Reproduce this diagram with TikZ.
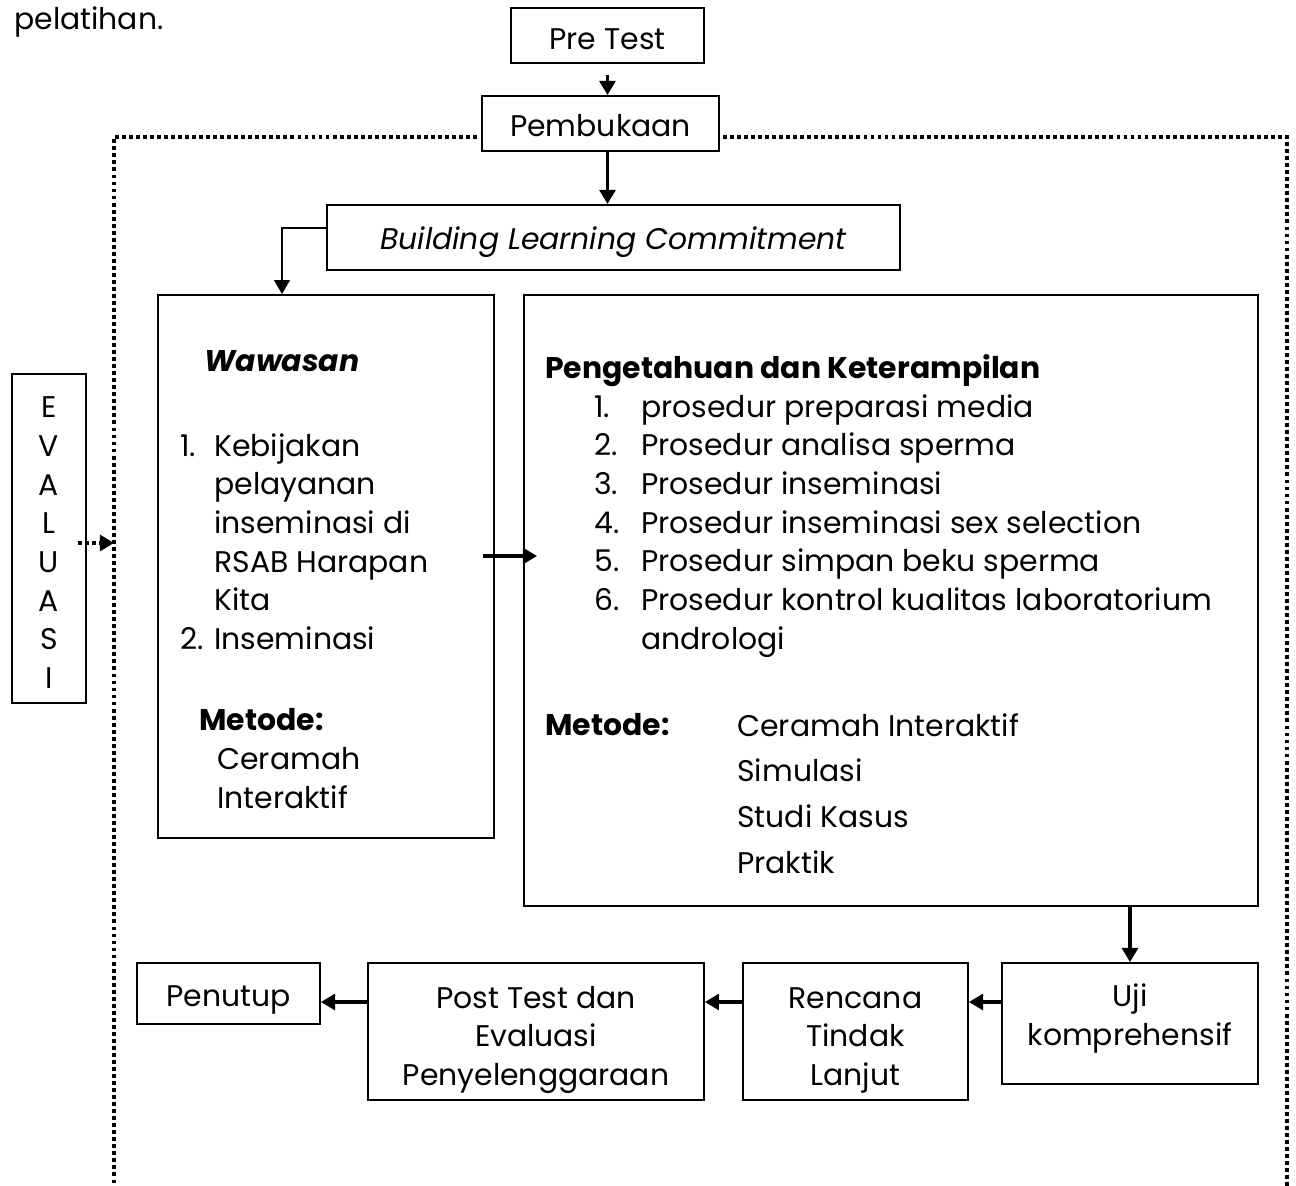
\documentclass[tikz,border=0pt]{standalone}
\usepackage{fontspec}
\setmainfont{Poppins}
\usetikzlibrary{arrows.meta,positioning}

% text of a box, moved up or down inside the box without changing its size
\newcommand{\boxlines}[2]{\raisebox{#1}[\height][\depth]{\begin{tabular}{@{}c@{}}#2\end{tabular}}}

\begin{document}
\begin{tikzpicture}[x=0.02cm, y=-0.02cm,
  font=\fontsize{17}{22}\selectfont,
  box/.style={draw, line width=1.1pt, inner sep=0pt, align=center},
  txt/.style={inner sep=0pt, align=left, anchor=north west},
  flow/.style={-{Triangle[width=9pt,length=8pt]}, line width=1.8pt},
  dotframe/.style={line width=2.2pt, dash pattern=on 2.2pt off 1.8pt}]
  \useasboundingbox (0,0) rectangle (1296,1186);
  \node[txt, anchor=west] (lead) at (14,22) {pelatihan.};
  % top of the flow
  \node[box, minimum width=3.86cm, minimum height=1.1cm] (pre) at (607.5,35.5)
    {\boxlines{-0.12cm}{Pre Test}};
  \node[box, minimum width=4.74cm, minimum height=1.1cm] (open) at (600.5,123.5)
    {\boxlines{-0.1cm}{Pembukaan}};
  \node[box, minimum width=11.46cm, minimum height=1.3cm] (blc) at (613.5,237.5)
    {\boxlines{-0.08cm}{\itshape Building Learning Commitment}};
  % the two content boxes
  \node[box, minimum width=6.72cm, minimum height=10.86cm] (waw) at (326,566.5) {};
  \node[box, minimum width=14.68cm, minimum height=12.22cm] (pk) at (891,600.5) {};
  \node[box, minimum width=1.48cm, minimum height=6.58cm] (eval) at (49,538.5)
    {\boxlines{-0.14cm}{E\\V\\A\\L\\U\\A\\S\\I}};
  \node[txt] (wawt) at (204,350) {\bfseries\itshape Wawasan};
  \node[txt] (wawl) at (180,433)
    {\makebox[0.68cm][l]{1.}Kebijakan\\
     \hspace*{0.68cm}pelayanan\\
     \hspace*{0.68cm}inseminasi di\\
     \hspace*{0.68cm}RSAB Harapan\\
     \hspace*{0.68cm}Kita\\
     \makebox[0.68cm][l]{2.}Inseminasi};
  \node[txt] (wawm) at (199,708) {\bfseries Metode:};
  \node[txt] (wawc) at (217,747) {Ceramah\\Interaktif};
  \node[txt] (pkt) at (545,354) {\bfseries Pengetahuan dan Keterampilan};
  \node[txt] (pkl) at (594,394)
    {\makebox[0.94cm][l]{1.}prosedur preparasi media\\
     \makebox[0.94cm][l]{2.}Prosedur analisa sperma\\
     \makebox[0.94cm][l]{3.}Prosedur inseminasi\\
     \makebox[0.94cm][l]{4.}Prosedur inseminasi sex selection\\
     \makebox[0.94cm][l]{5.}Prosedur simpan beku sperma\\
     \makebox[0.94cm][l]{6.}Prosedur kontrol kualitas laboratorium\\
     \hspace*{0.94cm}andrologi};
  \node[txt] (pkm) at (545,713) {\bfseries Metode:};
  \node[txt, font=\fontsize{17}{26}\selectfont] (pkc) at (737,713)
    {Ceramah Interaktif\\Simulasi\\Studi Kasus\\Praktik};
  % bottom row
  \node[box, minimum width=5.12cm, minimum height=2.42cm] (uji) at (1130,1023.5)
    {\boxlines{0.1cm}{Uji\\komprehensif}};
  \node[box, minimum width=4.5cm, minimum height=2.74cm] (rtl) at (855.5,1031.5)
    {\boxlines{-0.15cm}{Rencana\\Tindak\\Lanjut}};
  \node[box, minimum width=6.72cm, minimum height=2.74cm] (post) at (536,1031.5)
    {\boxlines{-0.15cm}{Post Test dan\\Evaluasi\\Penyelenggaraan}};
  \node[box, minimum width=3.66cm, minimum height=1.22cm] (tutup) at (228.5,993.5)
    {\boxlines{-0.1cm}{Penutup}};
  % connectors
  \coordinate (ftop) at (0,137);
  \coordinate (bend) at (282,228);
  \coordinate (wawr) at (483,556);
  \coordinate (pkin) at (537,556);
  \coordinate (evalin) at (114,543);
  \coordinate (row) at (0,1002);
  \draw[flow] ([yshift=-0.22cm]pre.south) -- (open.north -| pre.south);
  \draw[flow] (open.south -| pre.south) -- (blc.north -| pre.south);
  \draw[-{Triangle[width=9pt,length=8pt]}, line width=1.1pt]
    (blc.west |- bend) -- (bend) -- (bend |- waw.north);
  \draw[flow] (wawr) -- (pkin);
  \draw[flow] (pk.south -| uji.north) -- (uji.north);
  \draw[flow] (uji.west |- row) -- (rtl.east |- row);
  \draw[flow] (rtl.west |- row) -- (post.east |- row);
  \draw[flow] (post.west |- row) -- (tutup.east |- row);
  \draw[dotframe] ([xshift=-0.08cm]open.west |- ftop) -- (114,137) -- (114,1186);
  \draw[dotframe] ([xshift=0.06cm]open.east |- ftop) -- (1287,137) -- (1287,1186);
  \draw[flow, dotframe] ([xshift=-0.18cm]eval.east |- evalin) -- (evalin);
\end{tikzpicture}
\end{document}
